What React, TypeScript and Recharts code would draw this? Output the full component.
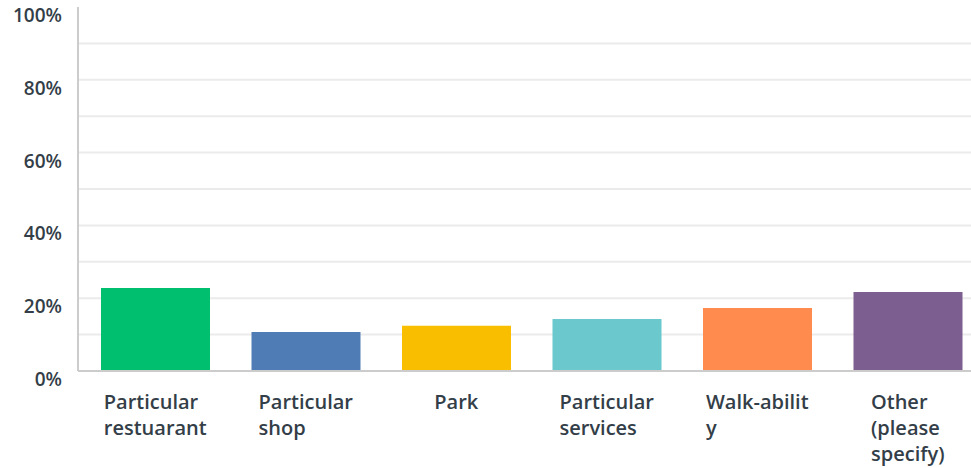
import React from "react";
import { Bar, BarChart, CartesianGrid, Cell, XAxis, YAxis } from "recharts";

const categories = [
  "Particular restuarant",
  "Particular shop",
  "Park",
  "Particular services",
  "Walk-ability",
  "Other (please specify)"
];
const labelLines = [
  ["Particular", "restuarant"],
  ["Particular", "shop"],
  ["Park"],
  ["Particular", "services"],
  ["Walk-abilit", "y"],
  ["Other", "(please", "specify)"]
];
const percents = [22.8, 10.7, 12.4, 14.3, 17.3, 21.7];
const barColors = ["#00bf6f", "#507cb6", "#f9be00", "#6bc8cd", "#ff8b4f", "#7d5e90"];
const yTicks = [0, 20, 40, 60, 80, 100];
const gridValues = [10, 20, 30, 40, 50, 60, 70, 80, 90];

const data = categories.map((name, i) => ({ name, value: percents[i], idx: i }));

const FONT = "'Open Sans', sans-serif";
const TEXT = "#333e48";

function YTick(props: any) {
  const { x, y, payload } = props;
  return (
    <text x={x - 8} y={y + 10} textAnchor="end" dominantBaseline="middle" fontFamily={FONT} fontWeight={600} fontSize={19} fill={TEXT}>
      {payload.value}%
    </text>
  );
}

function XTick(props: any) {
  const { x, y, index } = props;
  const lines = labelLines[index] || [];
  return (
    <foreignObject x={x - 75} y={y + 10} width={150} height={90}>
      <div style={{ display: "flex", justifyContent: "center" }}>
        <div style={{ textAlign: "left", fontFamily: FONT, fontWeight: 600, fontSize: 20, lineHeight: "26px", color: TEXT }}>
          {lines.map((l) => (
            <div key={l}>{l}</div>
          ))}
        </div>
      </div>
    </foreignObject>
  );
}

export default function App() {
  return (
    <div style={{ position: "absolute", left: 0, top: 0, width: 971, height: 468, overflow: "hidden", background: "#fff" }}>
      <BarChart width={983} height={468} data={data} margin={{ top: 7, right: 0, left: 0, bottom: 0 }} barSize={109}>
        <CartesianGrid vertical={false} horizontalValues={gridValues} stroke="#ebebeb" strokeWidth={2} />
        <XAxis
          dataKey="name"
          height={97}
          padding={{ left: 2, right: 0 }}
          axisLine={{ stroke: "#cccccc", strokeWidth: 2 }}
          tickLine={false}
          tick={<XTick />}
          interval={0}
        />
        <YAxis
          width={78}
          domain={[0, 100]}
          ticks={yTicks}
          axisLine={{ stroke: "#cccccc", strokeWidth: 2 }}
          tickLine={false}
          tick={<YTick />}
          interval={0}
        />
        <Bar dataKey="value" isAnimationActive={false}>
          {data.map((d) => (
            <Cell key={d.name} fill={barColors[d.idx]} />
          ))}
        </Bar>
      </BarChart>
    </div>
  );
}
